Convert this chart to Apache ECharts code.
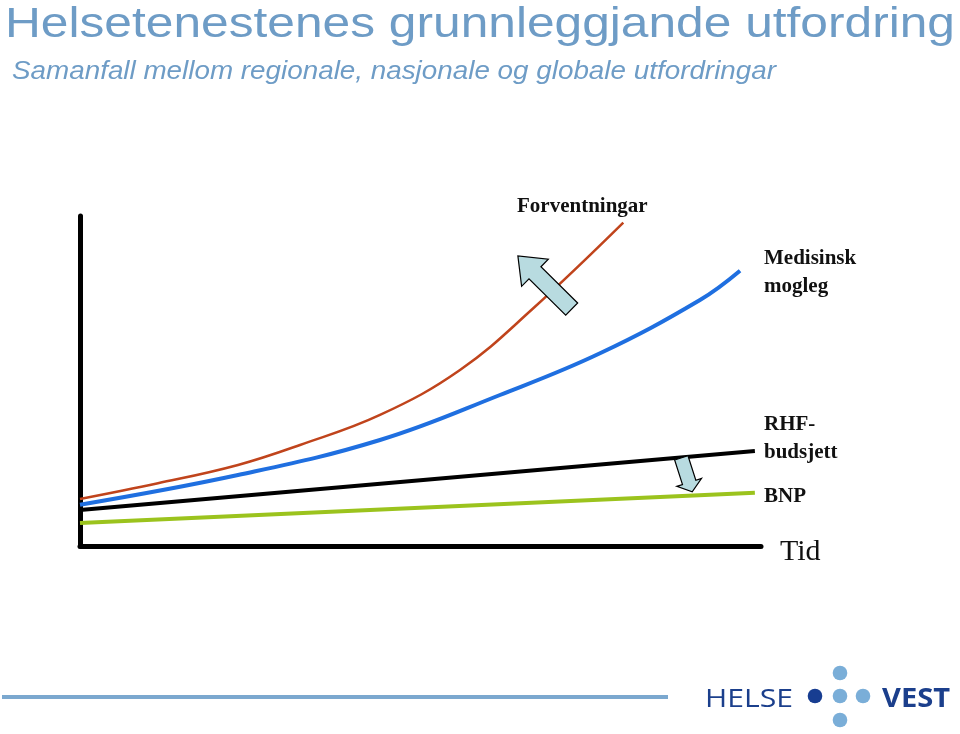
<!DOCTYPE html>
<html><head><meta charset="utf-8">
<script src="https://cdn.jsdelivr.net/npm/echarts@6/dist/echarts.min.js"></script>
<style>html,body{margin:0;padding:0;background:#fff}#c{width:960px;height:734px}</style>
</head><body><div id="c"></div>
<script>
// Data (relative scale: x = time 0..100, y = level 0..100)
const redX   = [0, 11.45, 23.2, 32.31, 44.05, 55.8, 66.56, 79.78];
const redY   = [14.24, 19.0, 24.55, 30.61, 39.7, 53.33, 72.03, 97.97];
const blueX  = [0, 23.2, 44.05, 61.67, 76.36, 91.04, 96.92];
const blueY  = [12.52, 21.52, 32.12, 45.76, 58.39, 74.55, 83.42];
const blackX = [0, 99.1];
const blackY = [10.9, 28.8];
const greenX = [0, 99.1];
const greenY = [7.0, 16.1];
// Arrow annotations [tailX, tailY, tipX, tipY] in data units
const bigArrow = [72.2, 71.8, 64.3, 87.9];
const smallArrow = [88.3, 26.7, 89.9, 16.4];
const labels = {
  red: 'Forventningar', blue: 'Medisinsk\nmogleg', black: 'RHF-\nbudsjett', green: 'BNP', axis: 'Tid'
};
const titleText = 'Helsetenestenes grunnleggjande utfordring';
const subText = 'Samanfall mellom regionale, nasjonale og globale utfordringar';

const pair = (xs, ys) => xs.map((x, i) => [x, ys[i]]);
const chart = echarts.init(document.getElementById('c'));
const serifBold = {fontFamily: 'Liberation Serif', fontWeight: 'bold', fontSize: 21, fill: '#111', lineHeight: 28};

const mctx = document.createElement('canvas').getContext('2d');
function widthOf(text, font) { mctx.font = font; return mctx.measureText(text).width; }

chart.setOption({
  animation: false,
  grid: {left: 80, right: 199, top: 216, bottom: 188},
  xAxis: {type: 'value', min: 0, max: 100,
    axisLine: {show: true, lineStyle: {color: '#000', width: 5}},
    axisTick: {show: false}, axisLabel: {show: false}, splitLine: {show: false}},
  yAxis: {type: 'value', min: 0, max: 100,
    axisLine: {show: true, lineStyle: {color: '#000', width: 5}},
    axisTick: {show: false}, axisLabel: {show: false}, splitLine: {show: false}},
  series: [
    {type: 'line', data: pair(greenX, greenY), symbol: 'none', lineStyle: {color: '#9bc31d', width: 4}},
    {type: 'line', data: pair(blackX, blackY), symbol: 'none', lineStyle: {color: '#000', width: 4}},
    {type: 'line', data: pair(blueX, blueY), smooth: 0.4, symbol: 'none', lineStyle: {color: '#1f6fe0', width: 4}},
    {type: 'line', data: pair(redX, redY), smooth: 0.4, symbol: 'none', lineStyle: {color: '#c0441c', width: 2.5}}
  ]
});

function arrowPoly(a, shaftW, headW, headL) {
  const t = chart.convertToPixel({gridIndex: 0}, [a[0], a[1]]);
  const h = chart.convertToPixel({gridIndex: 0}, [a[2], a[3]]);
  const dx = h[0] - t[0], dy = h[1] - t[1];
  const L = Math.hypot(dx, dy), ux = dx / L, uy = dy / L, nx = -uy, ny = ux;
  const b = [h[0] - ux * headL, h[1] - uy * headL];
  const p = (base, w) => [base[0] + nx * w, base[1] + ny * w];
  return [p(t, shaftW / 2), p(b, shaftW / 2), p(b, headW / 2), h, p(b, -headW / 2), p(b, -shaftW / 2), p(t, -shaftW / 2)];
}

function stretched(text, family, size, weight, style, x, y, targetW, color) {
  const f = (style || 'normal') + ' ' + (weight || 'normal') + ' ' + size + 'px ' + family;
  const s = targetW / widthOf(text, f);
  return {type: 'text', x: x, y: y, scaleX: s, originX: 0, originY: 0,
    style: {text: text, x: 0, y: 0, fontFamily: family, fontSize: size, fontWeight: weight || 'normal',
      fontStyle: style || 'normal', fill: color, verticalAlign: 'top'}};
}

chart.setOption({
  graphic: [
    stretched(titleText, 'Liberation Sans', 42, 'normal', 'normal', 5, 4, 950, '#6e9cc6'),
    stretched(subText, 'Liberation Sans', 25, 'normal', 'italic', 12, 60, 764, '#6e9cc6'),
    {type: 'polygon', shape: {points: arrowPoly(bigArrow, 17, 38, 24)}, style: {fill: '#b8dbe0', stroke: '#000', lineWidth: 1.2}, z: 10},
    {type: 'polygon', shape: {points: arrowPoly(smallArrow, 14, 26, 10)}, style: {fill: '#b8dbe0', stroke: '#000', lineWidth: 1.2}, z: 10},
    {type: 'text', left: 517, top: 193, style: Object.assign({text: labels.red}, serifBold)},
    {type: 'text', left: 764, top: 245, style: Object.assign({text: labels.blue}, serifBold)},
    {type: 'text', left: 764, top: 411, style: Object.assign({text: labels.black}, serifBold)},
    {type: 'text', left: 764, top: 483, style: Object.assign({text: labels.green}, serifBold)},
    {type: 'text', left: 780, top: 537, style: {text: labels.axis, fontFamily: 'Liberation Serif', fontSize: 30, fill: '#111'}},
    {type: 'line', shape: {x1: 2, y1: 697, x2: 668, y2: 697}, style: {stroke: '#7ba8cf', lineWidth: 4}},
    stretched('HELSE', 'Open Sans', 26, 'normal', 'normal', 705, 687, 88, '#1b3f8c'),
    {type: 'circle', shape: {cx: 815, cy: 696, r: 7.3}, style: {fill: '#173d91'}},
    {type: 'circle', shape: {cx: 840, cy: 696, r: 7.3}, style: {fill: '#7aaed8'}},
    {type: 'circle', shape: {cx: 863, cy: 696, r: 7.3}, style: {fill: '#7aaed8'}},
    {type: 'circle', shape: {cx: 840, cy: 673, r: 7.3}, style: {fill: '#7aaed8'}},
    {type: 'circle', shape: {cx: 840, cy: 720, r: 7.3}, style: {fill: '#7aaed8'}},
    stretched('VEST', 'Open Sans', 26, 'bold', 'normal', 882, 687, 68, '#1b3f8c')
  ]
});
</script></body></html>
